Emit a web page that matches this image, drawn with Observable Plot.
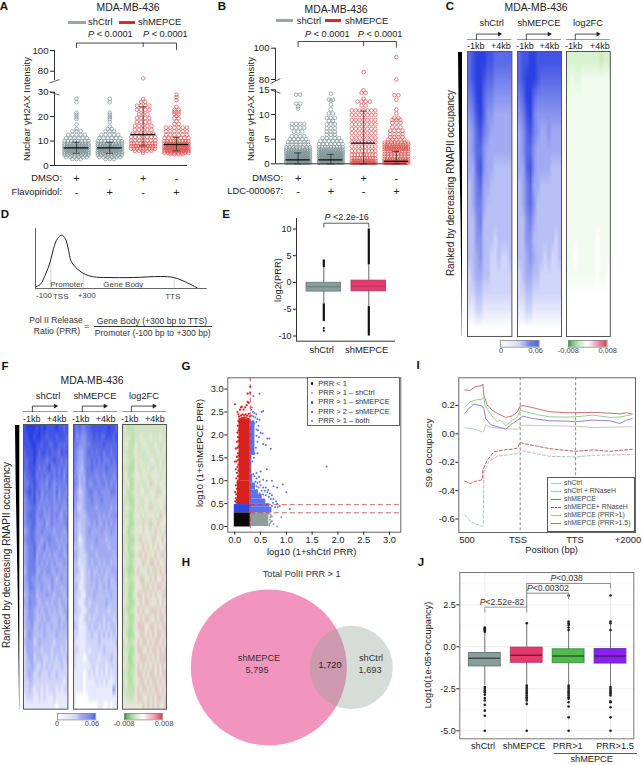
<!DOCTYPE html>
<html><head><meta charset="utf-8">
<style>
html,body{margin:0;padding:0;background:#fff}
#page{position:relative;width:643px;height:765px;overflow:hidden;font-family:"Liberation Sans",Arial,sans-serif;color:#222}
#page svg{position:absolute}
.t{position:absolute;white-space:nowrap;line-height:1}
.b{position:absolute}
</style>
<script src="https://cdn.jsdelivr.net/npm/d3@7"></script>
<script src="https://cdn.jsdelivr.net/npm/@observablehq/plot@0.6"></script>
</head><body><div id="page"></div>
<script>
// ---------- DATA ----------
// Panel A: [value, number of dots at about that value]
const aCtrlDmso=[[27.3,1],[25.9,1],[21.6,1],[20.8,1],[19.8,1],[19.1,1],[16.8,1],[15,1],[14,3],[12.6,5],[11.2,6],[10,8],[9,9],[8.2,11],[7.4,12],[6.6,13],[5.8,12],[5,10],[4.2,8],[3.4,6],[2.6,3]];
const aCtrlFlavo=[[27.3,1],[25.9,1],[21.6,1],[20.8,1],[19.8,1],[19,1],[17.8,1],[16,1],[15,2],[14,3],[12.6,5],[11.2,6],[10,8],[9,9],[8.2,11],[7.4,12],[6.6,13],[5.8,12],[5,10],[4.2,8],[3.4,6],[2.6,3]];
const aMepceDmso=[[63,1],[27.2,1],[26,2],[24.5,4],[22.8,4],[21,3],[19.4,4],[17.8,4],[16.2,5],[14.6,5],[13,6],[11.6,7],[10.2,7],[9,9],[7.9,11],[6.9,9],[6,5],[5.2,1]];
const aMepceFlavo=[[29,1],[28,1],[26.7,1],[24,1],[22.8,2],[22,2],[21,2],[20.2,1],[19.3,2],[18,1],[17,2],[15.5,6],[14,6],[12.6,6],[11.2,7],[10,9],[9,12],[8.2,13],[7.4,14],[6.6,13],[5.9,11],[5.2,8],[4.6,4]];
const aMean=[7.2,7.2,12.7,8.6], aLow=[5,5,8,6], aHigh=[9.5,9.5,24,11.5];
// Panel B
const bCtrlDmso=[[14,2],[12.2,2],[11.6,1],[11.2,1],[8.1,4],[7.3,4],[6.5,3],[5.6,4],[5,5],[4.4,6],[3.9,6],[3.3,8],[2.9,10],[2.5,11],[2.1,13],[1.7,14],[1.3,15],[0.9,17],[0.5,17],[0.2,15]];
const bCtrlLdc=[[14.2,1],[13,2],[12.8,1],[12,1],[11,1],[10.2,2],[9.3,3],[8.7,2],[8,3],[7.2,3],[6.5,3],[5.9,3],[5.2,5],[4.6,6],[4,7],[3.4,9],[2.9,11],[2.5,12],[2.1,14],[1.7,15],[1.3,16],[0.9,17],[0.5,17],[0.2,15]];
const bMepceDmso=[[84.7,1],[14.9,1],[14.4,2],[13.2,1],[12.6,4],[11.8,2],[10.8,7],[9.9,7],[8.9,7],[8,7],[7.1,7],[6.2,7],[5.3,7],[4.4,8],[3.5,8],[2.6,8],[1.8,9],[1.1,10],[0.6,12],[0.2,16]];
const bMepceLdc=[[94.3,1],[80,1],[13.9,2],[13,1],[11,1],[10.2,1],[9.3,2],[8.9,3],[8.3,3],[7.4,3],[6.7,4],[6,4],[5.4,4],[4.9,5],[4.3,8],[3.9,10],[3.4,11],[3,12],[2.5,9],[2,8],[1.5,8],[1,10],[0.6,13],[0.2,17]];
const bMean=[0.8,0.8,4.2,0.5], bLow=[0,0,0,0], bHigh=[2.2,1.9,10.7,2.5];
const dmsoMarks=["+","-","+","-"], drugMarks=["-","+","-","+"];
// Heatmaps, one digit per cell (0 light .. 9 strong)
const cCtrl=["789998877777","789987766666","679976655555","568975544444","457865444444","457754444444","447854433333","346744333333","346643333333","335633333333","335533323333","334533223223","234433222222","223322222222","112211111111","000000000000"];
const cMepce=["788998888888","789998777777","679976666666","568965555555","457865445444","457754444444","447854444333","346744333333","346753333333","335643333333","335533333323","334543323223","234433222222","223322222222","112211111111","000000000000"];
const cLog=["222222222122","343344444444","444444444444","444444444444","444444444444","444444444444","444444444444","444444444444","444444444444","444444444444","444444445444","445444445444","444444445445","555555555555","555555555555","555555555555"];
const fCtrl=["899998989888898878","889989988788878887","888998878877887777","788898788787776878","778897777677877676","778887676786676766","677886767667676757","667787666576566666","678786756666575665","567786656566565656","566776565656556555","567775665556565465","566775556456555556","456765565555455545","566765545565545454","456675456455554545","456674554545445544","456664545454544454","356664454554454444","456554544445434544","446654454435444344","345553444544344434","446554344343443443","345543434434343344","345543343443334334","344533434334334343","245433334333343333","344423433333233332","244433323332333232","234423332232323323","233432232323222322","234322322232232222","223322222222222212","223212212122212122","122211212111211111","111111111111101111"];
const fMepce=["767667788888889887","756556778787788878","665556677777877777","654456767677677677","654456676767666767","644356676666676666","553446666566566656","653446556656656565","542345665565555665","543345565556555555","532345555455555454","443334555545454555","432334454544545454","432334544445444544","431234444544434444","332234434444443444","432223444344444434","331223434434344343","332123343343433444","322123343434334334","331123333433434333","322113334333333433","321123233333343333","322112333233332333","221123232333233323","321112323323232332","221112232232323232","211112222232222223","221112122222322222","211101222212222322","211111122122212222","111101212121212122","111101111212121112","111101111111111151","100000111111111111","100000000011001011"];
const fLog=["443334444444444444","444334454445444544","454335445544454445","443345444454445454","544335454445544544","443235445454454545","453345545544555454","445235454456454554","543345455445546455","443235544554545554","454335454546454556","443245545455545645","453235456546456555","542345554554565456","443235465455645565","452345556565456556","443235465654565465","543245556456656556","442235655565465656","453345566556565565","443235556465656656","452245665656565566","543235565665556565","442345656556665656","453235565665565665","443245666556656566","542235566565656656","453345656656566565","443235665565665656","452245566656565666","543235656565656565","442345665656656566","453245566565665656","443335656656566565","544345665565656656","555555556565656556"];
const wedgeRank=[0,0.2,0.4,0.6,0.8,1], wedgeWidth=[1,0.85,0.6,0.35,0.2,0.05];
// Panel D (position and signal in arbitrary units)
const dPos=[106,120,135,150,160,172,185,195,205,212,225,250,280,320,400,480,520,550,590];
const dSig=[5,12,40,80,120,150,160,150,115,83,65,45,35,33,33,36,33,22,2];
const dGuidePos=[152,250,521], dGuideTop=[80,45,33];
// Panel E
const eQ1=[-1.7,-1.65], eMed=[-0.8,-0.65], eQ3=[-0.05,0.35], eWhiskLo=[-4,-4.5], eWhiskHi=[2.8,3.3];
const eOutHi=[4.2,10], eOutLo=[-7.3,-10], eStray=[[0,-8.5],[0,-9]];
// Panel G
const gRed=[[0,2.67],[.05,2.5],[.07,2.45],[.1,2.55],[.12,2.6],[.14,2.62],[.17,2.55],[.2,2.6],[.23,2.65],[.25,2.72],[.27,2.7],[.25,2.9],[.3,2.92],[.3,3.05],[.08,2.4],[.12,2.42],[.15,2.45],[.18,2.42],[.21,2.45],[.24,2.42],[.27,2.46],[.29,2.4],[.1,2.35],[.14,2.37],[.18,2.37],[.22,2.38],[.26,2.35],[.07,2.3],[.06,2.2],[.05,2.05],[.07,2.1],[.06,1.95],[.04,1.85],[.07,1.87],[.05,1.72],[.07,1.75],[.02,1.7],[.06,1.6],[.04,1.52],[.07,1.55],[0,1.42],[.03,1.42],[.06,1.45],[.05,1.3],[.07,1.35],[.02,1.25],[.04,1.17],[.07,1.22],[.03,1.05],[.06,1.1],[.05,.95],[.02,.9],[.04,.82],[.01,.75],[.03,.7],[.02,.62],[.04,.58],[.01,.55],[.03,.52],[.07,1]];
const gBlue=[[.36,2.85],[.48,2.9],[.33,2.6],[.32,2.55],[.35,2.5],[.38,2.48],[.42,2.45],[.52,2.5],[.55,2.52],[.33,2.42],[.36,2.4],[.4,2.38],[.44,2.35],[.48,2.33],[.35,2.3],[.38,2.25],[.42,2.28],[.46,2.2],[.42,2.12],[.45,2.1],[.5,2.05],[.54,2.03],[.42,1.98],[.47,1.95],[.63,1.92],[.67,1.92],[.44,1.85],[.55,1.8],[.6,1.78],[.7,1.7],[.41,1.72],[.38,1.6],[.44,1.6],[.37,1.5],[.34,1.42],[1.78,1.31],[.62,1.25],[.5,1.2],[.42,1.17],[.36,1.14],[.38,1.1],[.42,1.05],[.47,1.08],[.55,1.02],[.62,1],[.4,.98],[.44,.95],[.48,.98],[.72,1],[.75,.88],[.82,.85],[.93,.92],[1,.75],[.5,.9],[.55,.85],[.6,.85],[.65,.8],[.42,.88],[.46,.85],[.52,.78],[.58,.78],[.63,.75],[.68,.72],[.72,.68],[.48,.72],[.55,.7],[.6,.68],[.66,.65],[.7,.6],[.75,.6],[.8,.55],[.74,.52],[.82,.5],[.87,.45],[.83,.42],[.78,.42],[.72,.45],[1.07,.38]];
const gGrey=[[.66,.28],[.7,.25],[.72,.22],[.68,.15],[.72,.12],[.67,.03],[.75,.05],[.82,0],[.9,.2],[.69,.2],[.7,.1],[.68,.07]];
const gBlueBands=[[.3,.42,.72],[.42,.5,.68],[.5,.6,.6],[.6,.7,.53],[.7,.8,.46],[.8,.95,.4],[.95,1.15,.35],[1.15,1.55,.33],[1.55,2.3,.39]];
// Panel H
const vennSet=["shCtrl","shMEPCE"], vennX=[170.7,88.3], vennR=[41.7,78];
// Panel I: position in units of axis label (0 = 500, 1 = TSS, 2 = TTS, 3 = +2000)
const iRedX=[0,.1,.19,.315,.327,.345,.406,.497,.588,.739,.861,.952,1,1.1,1.285,1.527,1.83,1.994,2.315,2.62,2.8,2.92,3.02];
const iRed=[.309,.307,.333,.34,.351,.274,.203,.167,.144,.116,.127,.156,.198,.196,.179,.156,.149,.149,.151,.146,.141,.149,.139];
const iGreenX=[0,.1,.19,.315,.345,.364,.436,.527,.588,.648,.739,.861,.952,1,1.1,1.285,1.527,1.83,1.994,2.315,2.62,2.8,3.02];
const iGreen=[.191,.226,.238,.245,.262,.203,.156,.108,.085,.097,.057,.097,.12,.167,.156,.137,.12,.118,.12,.132,.116,.118,.137];
const iPurpleX=[0,.073,.164,.315,.345,.376,.467,.588,.739,.861,.952,1,1.042,1.224,1.527,1.83,1.994,2.315,2.62,2.8,2.92,3.02];
const iPurple=[.144,.179,.21,.196,.179,.108,.066,.05,.033,.073,.097,.108,.125,.108,.092,.09,.085,.097,.092,.073,.097,.108];
const iGreyX=[0,.133,.315,.345,.376,.436,.588,.739,.861,.952,1,1.1,1.527,1.994,2.315,3.02];
const iGrey=[.042,.038,.014,.019,.066,.05,.042,.038,.033,.033,.057,.061,.057,.054,.045,.05];
const iRedDashX=[0,.1,.19,.315,.327,.406,.527,.739,.861,.952,1,1.1,1.527,1.994,2.315,2.62,3.02];
const iRedDash=[-.333,-.349,-.335,-.323,-.257,-.186,-.127,-.111,-.108,-.099,-.061,-.071,-.104,-.123,-.113,-.123,-.108];
const iGreyDashX=[0,.1,.19,.315,.333,.345,.436,.588,.739,.952,1,1.527,1.994,2.315,3.02];
const iGreyDash=[-.571,-.616,-.634,-.651,-.646,-.269,-.193,-.158,-.151,-.139,-.116,-.158,-.163,-.151,-.146];
// Panel J
const jQ1=[-1.17,-.95,-.98,-1], jMed=[-.68,-.5,-.55,-.55], jQ3=[-.37,-.05,-.15,-.13], jLo=[-2.3,-2.3,-2.3,-2.4], jHi=[1.15,1.4,1.5,1.5];
const jOut=[
 [1.15,1.1,1.05,1,.95,.9,-2.4,-2.5,-2.6,-2.7,-2.85,-3.05,-3.2,-3.45,-3.8,-4.1,-5],
 [1.4,-2.3,-2.4,-2.5,-2.6,-2.7,-2.8,-2.9,-3,-3.1,-3.2,-3.4,-5],
 [3.05,1.5,1.4,1.3,1.15,1,-2.3,-2.4,-2.5,-2.6,-2.7,-2.8,-2.9,-3,-3.1,-3.3,-3.55,-4.2,-5],
 [3.05,1.5,1.4,1,-2.4,-2.5,-2.6,-2.7,-2.8,-2.9,-3.25,-3.3,-3.6,-4.2,-5]];
// ---------- HELPERS ----------
const page=document.getElementById("page");
const FONT='"Liberation Sans",Arial,sans-serif';
function panel(outer,inner,opts){
  const [L,T,W,H]=outer,[x0,y0,x1,y1]=inner;
  const o={width:W,height:H,marginLeft:x0-L,marginRight:L+W-x1,marginTop:y0-T,marginBottom:T+H-y1,
    style:{background:"transparent",fontFamily:FONT,color:"#222",overflow:"visible",height:H+"px",maxWidth:"none"},...opts};
  if(o.y&&o.y.pageRange){o.y={...o.y,range:o.y.pageRange.map(v=>v-T)};delete o.y.pageRange;}
  const svg=Plot.plot(o);
  svg.style.left=L+"px";svg.style.top=T+"px";
  page.appendChild(svg);return svg;
}
function label(x,y,html,o={}){
  const d=document.createElement("div");d.className="t";d.innerHTML=html;
  d.style.left=x+"px";d.style.top=y+"px";d.style.fontSize=(o.size||9.4)+"px";
  if(o.weight)d.style.fontWeight=o.weight;if(o.color)d.style.color=o.color;
  const a=o.anchor||"middle";const tx=a==="middle"?"-50%":a==="end"?"-100%":"0";
  d.style.transform=`translate(${tx},-50%)`+(o.rotate?` rotate(${o.rotate}deg)`:"");
  page.appendChild(d);
}
function block(x,y,w,h,css){const d=document.createElement("div");d.className="b";
  d.style.cssText=`left:${x}px;top:${y}px;width:${w}px;height:${h}px;${css}`;page.appendChild(d);}
const hidden={axis:null};
const fmt1=d=>d.toFixed(1);
// ---------- SWARM PANELS ----------
function swarm(rows,g){const out=[];for(const [v,n] of rows){const st=n>1?Math.min(.125,.72/(n-1)):0;
  for(let i=0;i<n;i++)out.push({x:g+(i-(n-1)/2)*st,y:v,g});}return out;}
const CT="#7d9093", RD="#d8504f";
function swarmPanel(outer,inner,xDom,yDom,yPage,groups,mean,low,high,topRule,lowTop,ticks,slashes,brk){
  const dots=groups.flatMap((r,g)=>swarm(r,g));
  const stats=mean.map((m,i)=>({g:i,m,lo:low[i],hi:high[i]}));
  panel(outer,inner,{x:{domain:xDom,...hidden},y:{type:"linear",domain:yDom,pageRange:yPage,...hidden},
   marks:[
    Plot.dot(dots,{x:"x",y:"y",r:1.8,stroke:d=>d.g<2?CT:RD,strokeWidth:.7,fill:"none"}),
    Plot.ruleX(stats,{x:"g",y1:"lo",y2:"hi",stroke:"#222",strokeWidth:.7}),
    Plot.ruleY(stats,{y:"lo",x1:d=>d.g-.11,x2:d=>d.g+.11,stroke:"#222",strokeWidth:.7}),
    Plot.ruleY(stats,{y:"hi",x1:d=>d.g-.11,x2:d=>d.g+.11,stroke:"#222",strokeWidth:.7}),
    Plot.ruleY(stats,{y:"m",x1:d=>d.g-.37,x2:d=>d.g+.37,stroke:"#111",strokeWidth:1.3}),
    Plot.ruleY([0],{stroke:"#333",strokeWidth:1}),
    Plot.ruleX([xDom[0]],{y1:0,y2:lowTop,stroke:"#333",strokeWidth:1}),
    Plot.ruleX([xDom[0]],{y1:topRule,y2:100,stroke:"#333",strokeWidth:1}),
    Plot.link(slashes,{x1:"x1",x2:"x2",y1:"y1",y2:"y2",stroke:"#333",strokeWidth:.8}),
    Plot.axisY({ticks,tickSize:4,tickPadding:2,fontSize:9.6,label:null,tickFormat:d=>d}),
    Plot.axisX({ticks:[0,1,2,3],tickSize:0,tickFormat:i=>dmsoMarks[i],fontSize:11,dy:brk[0]}),
    Plot.axisX({ticks:[0,1,2,3],tickSize:0,tickFormat:i=>drugMarks[i],fontSize:11,dy:brk[1]}),
    Plot.line(brk[2],{x:"x",y:"y",stroke:"#333",strokeWidth:.9}),
    Plot.ruleX([2],{y1:brk[3],y2:brk[4],stroke:"#333",strokeWidth:.9})
   ]});
}
swarmPanel([0,36,205,164],[54,50,187,165],[-.66,3.33],[0,30,80,100],[165,91.7,70.7,50],
  [aCtrlDmso,aCtrlFlavo,aMepceDmso,aMepceFlavo],aMean,aLow,aHigh,58,30,[0,10,20,30,80,100],
  [{x1:-.81,x2:-.51,y1:52,y2:60},{x1:-.81,x2:-.51,y1:31.2,y2:28.8}],
  [0,14,[{x:0,y:102.8},{x:0,y:107.2},{x:3,y:107.2},{x:3,y:101}],102.8,107.2]);
swarmPanel([215,36,200,164],[275,47.7,406.7,163.3],[-.69,3.33],[0,15,80,100],[163.3,89.3,79,47.7],
  [bCtrlDmso,bCtrlLdc,bMepceDmso,bMepceLdc],bMean,bLow,bHigh,67,15,[0,5,10,15,80,100],
  [{x1:-.84,x2:-.54,y1:55,y2:80.6},{x1:-.84,x2:-.54,y1:15.5,y2:14.3}],
  [1.5,14,[{x:0,y:101},{x:0,y:104.3},{x:3,y:104.3},{x:3,y:100.6}],101,104.3]);
label(128,8,"MDA-MB-436",{size:10.4});
block(68,21,18,3,"background:#9aa6a4");label(88,22,"shCtrl",{anchor:"start"});
block(119,21,16,3,"background:#d42a2a");label(138,22,"shMEPCE",{anchor:"start"});
label(88,35,"<i>P</i> &lt; 0.0001",{anchor:"start",size:9.2});label(143,35,"<i>P</i> &lt; 0.0001",{anchor:"start",size:9.2});
label(26.7,109,"Nuclear γH2AX Intensity",{rotate:-90,size:9.6});
label(62,178,"DMSO:",{anchor:"end"});label(62,192,"Flavopiridol:",{anchor:"end"});
label(336,10,"MDA-MB-436",{size:10.4});
block(276,19,17,3,"background:#9aa6a4");label(296.7,20.5,"shCtrl",{anchor:"start"});
block(325,19,16,3,"background:#d42a2a");label(345,20.5,"shMEPCE",{anchor:"start"});
label(305,35,"<i>P</i> &lt; 0.0001",{anchor:"start",size:9.2});label(357.7,35,"<i>P</i> &lt; 0.0001",{anchor:"start",size:9.2});
label(250.7,109,"Nuclear γH2AX Intensity",{rotate:-90,size:9.6});
label(283,178,"DMSO:",{anchor:"end"});label(283,190.7,"LDC-000067:",{anchor:"end"});
// ---------- HEATMAPS ----------
function heat(x0,y0,x1,y1,rows,colorOpt){
  const cols=rows[0].length,values=rows.flatMap(r=>[...r].map(Number));
  panel([x0,y0,x1-x0,y1-y0],[x0,y0,x1,y1],{
    x:{domain:[0,cols],...hidden},y:{domain:[rows.length,0],...hidden},color:colorOpt,
    marks:[Plot.raster(values,{width:cols,height:rows.length,x1:0,x2:cols,y1:0,y2:rows.length,fill:d=>d,imageRendering:"auto"}),
      Plot.frame({stroke:"#555",strokeWidth:1})]});
}
const blue={type:"linear",domain:[0,9],range:["#ffffff","#2b40e2"]};
const trackX=[.2,.2,.72],trackY=[0,1,1];
function track(x0,x1,yBase){
  const pts=trackX.map((x,i)=>({x,y:trackY[i]}));
  panel([x0-2,yBase-9,x1-x0+6,11],[x0,yBase-5.4,x1,yBase],{x:{domain:[0,1],...hidden},y:{domain:[0,1],...hidden},
   marks:[Plot.ruleY([0],{stroke:"#999",strokeWidth:1.1}),
    Plot.line(pts,{x:"x",y:"y",stroke:"#222",strokeWidth:.8}),
    Plot.dot([pts[2]],{x:"x",y:"y",symbol:"triangle",rotate:90,r:1.8,fill:"#222"})]});
}
function wedge(x0,x1,y0,y1){
  const w=wedgeRank.map((r,i)=>({r,w:wedgeWidth[i]}));
  panel([x0,y0,x1-x0,y1-y0],[x0,y0,x1,y1],{x:{domain:[0,1],...hidden},y:{domain:[1,0],...hidden},
   marks:[Plot.areaX(w,{y:"r",x1:d=>1-d.w,x2:1,fill:"#000"})]});
}
function colorBar(x0,y0,x1,y1,stops){
  const n=40,cells=d3.range(n).map(i=>({i}));
  const sc=d3.scaleLinear().domain(stops.map((_,i)=>i*(n-1)/(stops.length-1))).range(stops);
  panel([x0-1,y0-1,x1-x0+2,y1-y0+2],[x0,y0,x1,y1],{x:{domain:[0,n],...hidden},y:{domain:[0,1],...hidden},
   marks:[Plot.rect(cells,{x1:"i",x2:d=>d.i+1,y1:0,y2:1,fill:d=>sc(d.i)}),Plot.frame({stroke:"#888",strokeWidth:.8})]});
}
const blueStops=["#ffffff","#c5ccf3","#2a3fd8"],divStops=["#2f9a37","#a6dca0","#ffffff","#ee9db4","#c8102e"];
// C
wedge(458,462,52,336);
[[467.3,511.7,cCtrl,blue],[516.7,560.7,cMepce,blue],
 [565.7,609.5,cLog,{type:"linear",domain:[0,5,9],range:["#bdeaae","#ffffff","#f0b0c0"]}]].forEach(([a,b,m,c])=>{heat(a,51,b,336,m,c);track(a,b,38.7);});
label(536,8,"MDA-MB-436",{size:10.4});
label(491.7,22.7,"shCtrl");label(539,22.7,"shMEPCE");label(588,22.7,"log2FC");
[475.7,525,573.7].forEach(x=>label(x,46,"-1kb",{size:9}));[501,549.3,600].forEach(x=>label(x,46,"+4kb",{size:9}));
label(451,182.5,"Ranked by decreasing RNAPII occupancy",{rotate:-90,size:10});
colorBar(500.3,340,539,346.7,blueStops);colorBar(567.7,340,606.3,346.7,divStops);
label(501,351,"0",{size:7.4,color:"#444"});label(535.7,351,"0.06",{size:7.4,color:"#444"});
label(568.3,351,"-0.008",{size:7.4,color:"#444"});label(607.7,351,"0.008",{size:7.4,color:"#444"});
// F
wedge(14.7,19,425,709);
[[23.3,67.7,fCtrl,blue],[72.7,116.7,fMepce,blue],
 [121.7,165.7,fLog,{type:"linear",domain:[0,5,9],range:["#84d878","#e6e7d8","#cf7488"]}]].forEach(([a,b,m,c])=>{heat(a,424.3,b,709,m,c);track(a,b,411.3);});
label(92,381,"MDA-MB-436",{size:10.4});
label(48,395.7,"shCtrl");label(95,395.7,"shMEPCE");label(144,395.7,"log2FC");
[31.7,80.7,129.7].forEach(x=>label(x,419,"-1kb",{size:9}));[56.7,105.7,155].forEach(x=>label(x,419,"+4kb",{size:9}));
label(7,555,"Ranked by decreasing RNAPII occupancy",{rotate:-90,size:10});
colorBar(56.7,713.3,95,719.7,blueStops);colorBar(124,713.3,162.3,719.7,divStops);
label(57,724,"0",{size:7.4,color:"#444"});label(92,724,"0.06",{size:7.4,color:"#444"});
label(124,724,"-0.008",{size:7.4,color:"#444"});label(164,724,"0.008",{size:7.4,color:"#444"});
// ---------- D ----------
panel([30,224,182,68],[35,228,206.7,288],{x:{domain:[106,620],...hidden},y:{domain:[0,180],...hidden},
 marks:[
  Plot.ruleX(dGuidePos.map((p,i)=>({p,t:dGuideTop[i]})),{x:"p",y1:0,y2:"t",stroke:"#ccc",strokeWidth:.8}),
  Plot.line(dPos.map((p,i)=>({p,s:dSig[i]})),{x:"p",y:"s",curve:"catmull-rom",stroke:"#222",strokeWidth:1}),
  Plot.ruleX([106],{y1:0,y2:180,stroke:"#333",strokeWidth:.8}),
  Plot.ruleY([0],{stroke:"#555",strokeWidth:.9})]});
label(66.7,285.3,"Promoter",{size:8,color:"#444"});label(123.3,285.3,"Gene Body",{size:8,color:"#444"});
label(44,296,"-100",{size:8,color:"#444"});label(60.7,297,"TSS",{size:8,color:"#444"});label(86.7,296,"+300",{size:8,color:"#444"});label(172.7,297,"TTS",{size:8,color:"#444"});
label(56,320,"Pol II Release",{size:8.6,color:"#333"});label(57,331,"Ratio (PRR)",{size:8.6,color:"#333"});label(86.7,325.7,"=",{size:9,color:"#333"});
label(152,321,"Gene Body (+300 bp to TTS)",{size:8.6,color:"#333"});block(94.3,326,117.4,.8,"background:#333");label(152.7,333,"Promoter (-100 bp to +300 bp)",{size:8.6,color:"#333"});
// ---------- E ----------
const eCol=["#8a9e9b","#e8386d"],eEdge=["#64787a","#a83a5a"];
const eS=eQ1.map((q,i)=>({i,q1:q,med:eMed[i],q3:eQ3[i],lo:eWhiskLo[i],hi:eWhiskHi[i],oh:eOutHi[i],ol:eOutLo[i]}));
panel([272,212,130,132],[296,218,395,340.7],{x:{domain:[-.607,1.593],...hidden},y:{domain:[-10.97,11.96],...hidden},
 marks:[
  Plot.ruleX(eS,{x:"i",y1:"lo",y2:"hi",stroke:"#666",strokeWidth:1}),
  Plot.ruleX(eS,{x:"i",y1:"hi",y2:"oh",stroke:"#111",strokeWidth:2.2}),
  Plot.ruleX(eS,{x:"i",y1:"lo",y2:"ol",stroke:"#111",strokeWidth:2.2}),
  Plot.dot(eStray,{x:d=>d[0],y:d=>d[1],r:1.1,fill:"#111"}),
  Plot.rect(eS,{x1:d=>d.i-.385,x2:d=>d.i+.385,y1:"q1",y2:"q3",fill:d=>eCol[d.i],stroke:d=>eEdge[d.i],strokeWidth:.8}),
  Plot.ruleY(eS,{y:"med",x1:d=>d.i-.385,x2:d=>d.i+.385,stroke:d=>eEdge[d.i],strokeWidth:1.1}),
  Plot.ruleY([-10.97],{stroke:"#333",strokeWidth:1}),Plot.ruleX([-.607],{stroke:"#333",strokeWidth:1}),
  Plot.axisY({ticks:[-10,-5,0,5,10],tickSize:3,tickPadding:2,fontSize:9,label:null,tickFormat:d=>d}),
  Plot.line([{x:0,y:10.34},{x:0,y:11.08},{x:1,y:11.08},{x:1,y:10.34}],{x:"x",y:"y",stroke:"#333",strokeWidth:.8})]});
label(346.7,216.7,"<i>P</i> &lt;2.2e-16",{size:9});label(278,280,"log2(PRR)",{rotate:-90,size:9.4});
label(321.7,350,"shCtrl",{size:9.4});label(366.7,350,"shMEPCE",{size:9.4});
// ---------- G ----------
const pt=a=>a.map(([x,y])=>({x,y}));
panel([205,370,200,176],[227.3,377.3,400.3,531.7],{x:{domain:[-.136,3.22],...hidden},y:{domain:[-.124,3.247],...hidden},
 marks:[
  Plot.dot(pt(gGrey),{x:"x",y:"y",r:1,fill:"#8e9e9b"}),
  Plot.rect([{}],{x1:.3,x2:.66,y1:0,y2:.3,fill:"#8e9e9b"}),
  Plot.rect(gBlueBands,{x1:.3,x2:d=>d[2],y1:d=>d[0],y2:d=>d[1],fill:"#5d72ec"}),
  Plot.dot(pt(gBlue),{x:"x",y:"y",r:1,fill:"#5d72ec"}),
  Plot.rect([{}],{x1:-.01,x2:.3,y1:-.01,y2:.3,fill:"#0a0a0a"}),
  Plot.rect([{}],{x1:-.01,x2:.3,y1:.3,y2:.48,fill:"#2f46e0"}),
  Plot.rect([{x1:.05,y1:.48,y2:1},{x1:.08,y1:1,y2:2.35}],{x1:"x1",x2:.3,y1:"y1",y2:"y2",fill:"#d8201c"}),
  Plot.dot(pt(gRed),{x:"x",y:"y",r:1.1,fill:"#d8201c"}),
  Plot.ruleX([.3],{stroke:"#c8383f",strokeDasharray:"4,3",strokeWidth:.9}),
  Plot.ruleY([.3,.477],{x1:.3,x2:3.22,stroke:"#c8383f",strokeDasharray:"5,3",strokeWidth:.8}),
  Plot.frame({stroke:"#666",strokeWidth:1}),
  Plot.axisX({ticks:[0,.5,1,1.5,2,2.5,3],tickSize:3,tickPadding:1,fontSize:9.4,label:null,tickFormat:fmt1}),
  Plot.axisY({ticks:[0,.5,1,1.5,2,2.5,3],tickSize:3,tickPadding:1,fontSize:9.4,label:null,tickFormat:fmt1})]});
label(311.7,551.7,"log10 (1+shCtrl PRR)",{size:9.4});label(200,453,"log10 (1+shMEPCE PRR)",{rotate:-90,size:9.4});
block(307.3,377.3,93,48.7,"background:#fff;border:1px solid #666;box-sizing:border-box");
[["PRR &lt; 1","#0a0a0a"],["PRR &gt; 1 – shCtrl","#8e9e9b"],["PRR &gt; 1 – shMEPCE","#2f46e0"],["PRR &gt; 2 – shMEPCE","#d8201c"],["PRR &gt; 1 – both","#5d72ec"]].forEach(([s,c],i)=>{
  block(310.5,382.3+i*9.45,2.4,2.4,`background:${c};border-radius:50%`);label(318.3,383.5+i*9.45,s,{anchor:"start",size:7.5,color:"#333"});});
// ---------- H ----------
const vennRows=vennSet.map((s,i)=>({s,x:vennX[i],r:vennR[i]}));
panel([180,582,240,170],[180,582,420,752],{x:{domain:[0,240],...hidden},y:{domain:[0,170],...hidden},r:{type:"identity"},
 marks:[
  Plot.dot(vennRows.filter(d=>d.s==="shMEPCE"),{x:"x",y:85,r:"r",fill:"#f195be"}),
  Plot.dot(vennRows.filter(d=>d.s==="shCtrl"),{x:"x",y:85,r:"r",fill:"rgb(140,160,150)",fillOpacity:.36})]});
label(301.7,575,"Total PolII PRR &gt; 1",{size:9.2,color:"#333"});
label(259,659,"shMEPCE",{size:9.2,color:"#333"});label(257,671,"5,795",{size:9.2,color:"#333"});label(330,666,"1,720",{size:9.2,color:"#222"});
label(371,659,"shCtrl",{size:9.2,color:"#333"});label(370,671,"1,693",{size:9.2,color:"#333"});
// ---------- I ----------
const ser=(xs,ys)=>xs.map((x,i)=>({x,y:ys[i]}));
panel([430,372,208,165],[458.3,377.3,635,532],{x:{domain:[-.107,3.08],...hidden},y:{domain:[-.695,.395],...hidden},
 marks:[
  Plot.ruleX([1,2],{stroke:"#888",strokeDasharray:"3,2",strokeWidth:1}),
  Plot.line(ser(iGreyX,iGrey),{x:"x",y:"y",stroke:"#b6c4bb",strokeWidth:.9}),
  Plot.line(ser(iGreyDashX,iGreyDash),{x:"x",y:"y",stroke:"#a8b4c8",strokeWidth:.9,strokeDasharray:"3,2"}),
  Plot.line(ser(iRedX,iRed),{x:"x",y:"y",stroke:"#c4625e",strokeWidth:.9}),
  Plot.line(ser(iRedDashX,iRedDash),{x:"x",y:"y",stroke:"#b5504c",strokeWidth:.9,strokeDasharray:"3,2"}),
  Plot.line(ser(iGreenX,iGreen),{x:"x",y:"y",stroke:"#86cc86",strokeWidth:.9}),
  Plot.line(ser(iPurpleX,iPurple),{x:"x",y:"y",stroke:"#8a6fd8",strokeWidth:.9}),
  Plot.frame({stroke:"#666",strokeWidth:1}),
  Plot.axisY({ticks:[-.6,-.4,-.2,0,.2],tickSize:3,tickPadding:1,fontSize:9.4,label:null,tickFormat:fmt1})]});
label(467,540,"500",{size:9.4});label(518,540,"TSS",{size:9.4});label(575,540,"TTS",{size:9.4});label(628,540,"+2000",{size:9.4});
label(551.7,550,"Position (bp)",{size:9.4});label(429,453,"S9.6 Occupancy",{rotate:-90,size:9.4});
block(547.3,477.3,87.7,54.7,"background:#fff;border:1px solid #555;box-sizing:border-box");
[["shCtrl","#b6c4bb","solid"],["shCtrl + RNaseH","#a8b4c8","dashed"],["shMEPCE","#c4625e","solid"],["shMEPCE+ RNaseH","#b5504c","dashed"],["shMEPCE (PRR&gt;1)","#86cc86","solid"],["shMEPCE (PRR&gt;1.5)","#8a6fd8","solid"]].forEach(([s,c,st],i)=>{
  const y=483+i*8;block(551,y,10,0,`border-top:1px ${st} ${c}`);label(564,y,s,{anchor:"start",size:6.9,color:"#444"});});
// ---------- J ----------
const jCol=["#8a9e9b","#e8386d","#4fbb4f","#8a1ff0"],jEdge=["#5f7472","#a83a5a","#3a8f45","#6a3fb0"];
const jS=jQ1.map((q,i)=>({i,q1:q,med:jMed[i],q3:jQ3[i],lo:jLo[i],hi:jHi[i]}));
const jDots=jOut.flatMap((a,i)=>a.map(y=>({i,y})));
panel([432,568,206,176],[459.3,572,633.3,738.3],{x:{domain:[-.597,3.556],...hidden},y:{domain:[-5.476,4.42],...hidden},
 marks:[
  Plot.ruleY([-5,-2.5,0,2.5],{stroke:"#e9e9e9",strokeWidth:.8}),
  Plot.ruleY([-3.75,-1.25,1.25,3.75],{stroke:"#f3f3f3",strokeWidth:.6}),
  Plot.ruleX([0,1,2,3],{stroke:"#e9e9e9",strokeWidth:.8}),
  Plot.ruleX(jS,{x:"i",y1:"lo",y2:"hi",stroke:"#777",strokeWidth:1}),
  Plot.dot(jDots,{x:"i",y:"y",r:1.3,fill:"#222"}),
  Plot.rect(jS,{x1:d=>d.i-.38,x2:d=>d.i+.38,y1:"q1",y2:"q3",fill:d=>jCol[d.i],stroke:d=>jEdge[d.i],strokeWidth:.9}),
  Plot.ruleY(jS,{y:"med",x1:d=>d.i-.38,x2:d=>d.i+.38,stroke:"#222",strokeWidth:1}),
  Plot.line([{x:0,y:2.06},{x:0,y:2.36},{x:1,y:2.36},{x:1,y:2.06}],{x:"x",y:"y",stroke:"#999",strokeWidth:1}),
  Plot.line([{x:1,y:2.36},{x:1,y:3.19},{x:2,y:3.19},{x:2,y:2.87}],{x:"x",y:"y",stroke:"#888",strokeWidth:1}),
  Plot.line([{x:1,y:3.19},{x:1,y:3.77},{x:3,y:3.77},{x:3,y:3.5}],{x:"x",y:"y",stroke:"#888",strokeWidth:1}),
  Plot.frame({stroke:"#777",strokeWidth:1}),
  Plot.axisY({ticks:[-5,-2.5,0,2.5],tickSize:3,tickPadding:1,fontSize:9,label:null,tickFormat:fmt1})]});
label(502,601.7,"<i>P</i>&lt;2.52e-82",{size:8.6,color:"#333"});label(548,588,"<i>P</i>&lt;0.00302",{size:8.6,color:"#333"});label(566.7,577.7,"<i>P</i>&lt;0.038",{size:8.6,color:"#333"});
label(429,655,"Log10(1e-05+Occupancy)",{rotate:-90,size:9.2});
label(483,746.7,"shCtrl",{size:9.2});label(524,746.7,"shMEPCE",{size:9.2});label(567.7,746.7,"PRR&gt;1",{size:9.2});label(615,746.7,"PRR&gt;1.5",{size:9.2});
block(554,753,82.7,.9,"background:#555");label(591.7,760,"shMEPCE",{size:9.2});
// ---------- PANEL LETTERS ----------
[["A",4,7],["B",222,7],["C",450,7],["D",5,215],["E",226,215],["F",5,367],["G",186,367],["H",186,563],["I",418,366],["J",421,563]].forEach(([s,x,y])=>label(x,y,s,{size:11.5,weight:"bold",color:"#111"}));
</script></body></html>
